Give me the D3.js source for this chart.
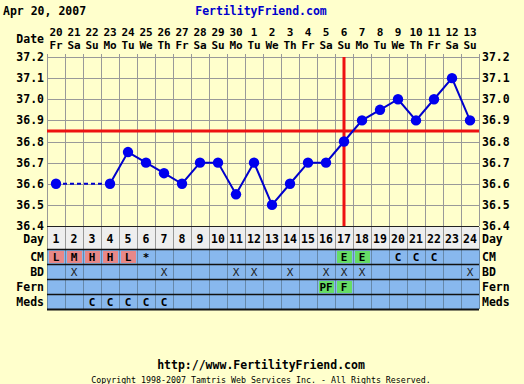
<!DOCTYPE html>
<html><head><meta charset="utf-8">
<script src="https://cdn.jsdelivr.net/npm/d3@7"></script>
<style>
body{margin:0;background:#FFFFCC;}
svg{display:block;}
text{font-family:"DejaVu Sans Mono",monospace;}
</style></head>
<body>
<svg id="c" width="524" height="384" font-weight="bold"></svg>
<script>
const title = "Apr 20, 2007";
const site = "FertilityFriend.com";
const days = d3.range(1, 25);
const dates = ["20","21","22","23","24","25","26","27","28","29","30","1","2","3","4","5","6","7","8","9","10","11","12","13"];
const weekdays = ["Fr","Sa","Su","Mo","Tu","We","Th","Fr","Sa","Su","Mo","Tu","We","Th","Fr","Sa","Su","Mo","Tu","We","Th","Fr","Sa","Su"];
const temps = [36.6,null,null,36.6,36.75,36.7,36.65,36.6,36.7,36.7,36.55,36.7,36.5,36.6,36.7,36.7,36.8,36.9,36.95,37.0,36.9,37.0,37.1,36.9];
const yTicks = [36.4,36.5,36.6,36.7,36.8,36.9,37.0,37.1,37.2];
const coverline = 36.85;
const ovulationDay = 17;
const cm   = ["L","M","H","H","L","*","","","","","","","","","","","E","E","","C","C","C","",""];
const cmColor = ["s","s","s","s","s","","","","","","","","","","","","g","g","","","","","",""];
const bd   = ["","X","","","","","X","","","","X","X","","X","","X","X","X","","","","","","X"];
const fern = ["","","","","","","","","","","","","","","","PF","F","","","","","","",""];
const fernColor = ["","","","","","","","","","","","","","","","g","g","","","","","","",""];
const meds = ["","","C","C","C","C","C","","","","","","","","","","","","","","","","",""];
const rowNames = ["CM","BD","Fern","Meds"];

const svg = d3.select("#c");
const L = 47, R = 479, T = 57, B = 226;
const x = d3.scaleBand().domain(days).range([L, R]);
const y = d3.scaleLinear().domain([36.4, 37.2]).range([B, T]);
const cx = d => x(d) + x.bandwidth()/2;

// header
svg.append("text").attr("x",3).attr("y",15).attr("font-size",11.5).attr("fill","#000").text(title);
svg.append("text").attr("x",261).attr("y",15).attr("font-size",11.5).attr("fill","#0000CC").attr("text-anchor","middle").text(site);
svg.append("text").attr("x",44).attr("y",43).attr("font-size",11.5).attr("text-anchor","end").text("Date");
const hdr = svg.append("g");
hdr.selectAll(".dn").data(days).join("text").attr("class","dn").attr("x",d=>cx(d)).attr("y",36).attr("font-size",11).attr("text-anchor","middle").text((d,i)=>dates[i]);
hdr.selectAll(".wd").data(days).join("text").attr("class","wd").attr("x",d=>cx(d)).attr("y",49).attr("font-size",11).attr("text-anchor","middle").text((d,i)=>weekdays[i]);

// grid
const g = svg.append("g");
g.selectAll(".hl").data(yTicks).join("line")
  .attr("x1",L).attr("x2",R).attr("y1",d=>Math.round(y(d))+0.5).attr("y2",d=>Math.round(y(d))+0.5)
  .attr("stroke",d=>d===36.4?"#222":"#999").attr("stroke-width",1);
g.selectAll(".vl").data(d3.range(0,25)).join("line")
  .attr("x1",i=>L+i*x.bandwidth()+0.5).attr("x2",i=>L+i*x.bandwidth()+0.5)
  .attr("y1",T-3).attr("y2",B).attr("stroke","#999");

// y labels
svg.selectAll(".yl").data(yTicks).join("text").attr("class","yl").attr("x",44).attr("y",d=>y(d)+4).attr("font-size",11.5).attr("text-anchor","end").text(d=>d.toFixed(1));
svg.selectAll(".yr").data(yTicks).join("text").attr("class","yr").attr("x",482).attr("y",d=>y(d)+4).attr("font-size",11.5).text(d=>d.toFixed(1));

// red lines
svg.append("line").attr("x1",L).attr("x2",R).attr("y1",y(coverline)).attr("y2",y(coverline)).attr("stroke","#EE1111").attr("stroke-width",3);
svg.append("line").attr("x1",cx(ovulationDay)).attr("x2",cx(ovulationDay)).attr("y1",T).attr("y2",B).attr("stroke","#EE1111").attr("stroke-width",3);

// temperatures
const pts = days.map((d,i)=>({d, t: temps[i]})).filter(p=>p.t!==null);
const line = d3.line().x(p=>cx(p.d)).y(p=>y(p.t));
svg.append("path").attr("d",line(pts.slice(0,2))).attr("fill","none").attr("stroke","#0000CC").attr("stroke-width",2).attr("stroke-dasharray","4,3");
svg.append("path").attr("d",line(pts.slice(1))).attr("fill","none").attr("stroke","#0000CC").attr("stroke-width",2);
svg.selectAll(".pt").data(pts).join("circle").attr("class","pt").attr("cx",p=>cx(p.d)).attr("cy",p=>y(p.t)).attr("r",5.2).attr("fill","#0000EE");

// Day row
const dayTop = 227, dayBot = 249;
svg.append("rect").attr("x",L).attr("y",dayTop).attr("width",R-L).attr("height",dayBot-dayTop).attr("fill","#EEEEEE");
svg.selectAll(".dvl").data(d3.range(0,25)).join("line").attr("class","dvl")
  .attr("x1",i=>L+i*x.bandwidth()+0.5).attr("x2",i=>L+i*x.bandwidth()+0.5)
  .attr("y1",dayTop).attr("y2",dayBot).attr("stroke","#999");
svg.selectAll(".dnum").data(days).join("text").attr("class","dnum").attr("x",d=>cx(d)).attr("y",243).attr("font-size",11.5).attr("text-anchor","middle").text(d=>d);
svg.append("text").attr("x",44).attr("y",243).attr("font-size",11.5).attr("text-anchor","end").text("Day");
svg.append("text").attr("x",482).attr("y",243).attr("font-size",11.5).text("Day");

// rows
const rowTop = 249, rowH = 15;
const rows = [{v:cm,c:cmColor},{v:bd,c:null},{v:fern,c:fernColor},{v:meds,c:null}];
rows.forEach((r,ri)=>{
  const y0 = rowTop + ri*rowH;
  svg.append("rect").attr("x",L).attr("y",y0).attr("width",R-L).attr("height",rowH).attr("fill","#88B8EE");
  if (r.c) {
    svg.selectAll(null).data(days.filter((d,i)=>r.c[i])).join("rect")
      .attr("x",d=>x(d)+2).attr("y",y0+2).attr("width",x.bandwidth()-3).attr("height",rowH-3)
      .attr("fill",d=>r.c[d-1]==="s"?"#E88888":"#66DD66");
  }
  svg.selectAll(null).data(d3.range(0,25)).join("line")
    .attr("x1",i=>L+i*x.bandwidth()+0.5).attr("x2",i=>L+i*x.bandwidth()+0.5)
    .attr("y1",y0).attr("y2",y0+rowH).attr("stroke","#6688AA");
  svg.selectAll(null).data(days.filter((d,i)=>r.v[i])).join("text")
    .attr("x",d=>cx(d)).attr("y",y0+11.5).attr("font-size",11).attr("text-anchor","middle")
    .attr("fill", r.v===bd ? "#222" : "#000")
    .style("font-weight", r.v===bd ? "normal" : "bold")
    .text(d=>r.v[d-1]);
  svg.append("text").attr("x",44).attr("y",y0+11.5).attr("font-size",11.5).attr("text-anchor","end").text(rowNames[ri]);
  svg.append("text").attr("x",482).attr("y",y0+11.5).attr("font-size",11.5).text(rowNames[ri]);
});
for (let k=0;k<=4;k++){
  const yy = rowTop + k*rowH;
  svg.append("line").attr("x1",L).attr("x2",R).attr("y1",yy+0.5).attr("y2",yy+0.5).attr("stroke","#111").attr("stroke-width",k===4?2:1.5);
}

// footer
svg.append("text").attr("x",261).attr("y",369).attr("font-size",11.5).attr("text-anchor","middle").text("http://www.FertilityFriend.com");
svg.append("text").attr("x",261).attr("y",383).attr("font-size",8.3).style("font-weight","normal").attr("text-anchor","middle").text("Copyright 1998-2007 Tamtris Web Services Inc. - All Rights Reserved.");
</script>
</body></html>
